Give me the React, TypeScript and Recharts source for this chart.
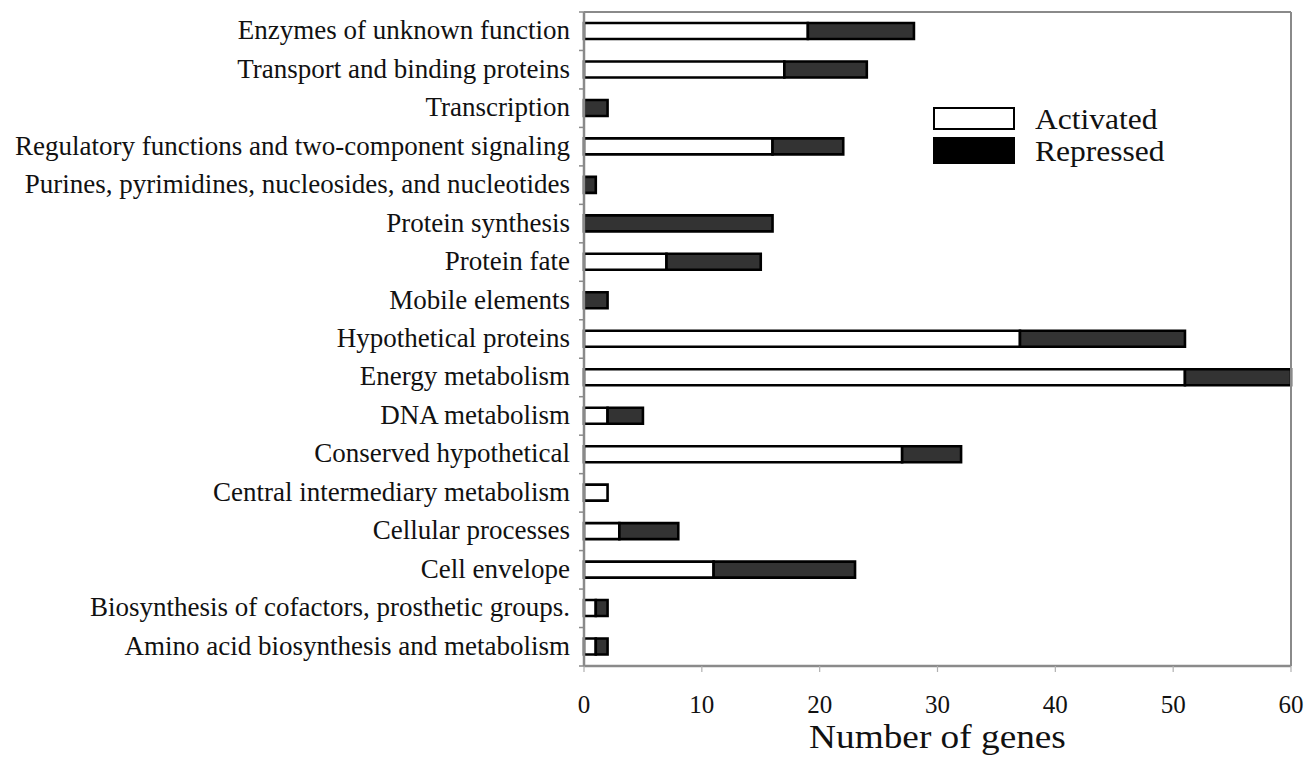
import React from "react";
import { Bar, BarChart, Label, Legend, XAxis, YAxis } from "recharts";

const categories = [
  "Enzymes of unknown function",
  "Transport and binding proteins",
  "Transcription",
  "Regulatory functions and two-component signaling",
  "Purines, pyrimidines, nucleosides, and nucleotides",
  "Protein synthesis",
  "Protein fate",
  "Mobile elements",
  "Hypothetical proteins",
  "Energy metabolism",
  "DNA metabolism",
  "Conserved hypothetical",
  "Central intermediary metabolism",
  "Cellular processes",
  "Cell envelope",
  "Biosynthesis of cofactors, prosthetic groups.",
  "Amino acid biosynthesis and metabolism",
];
const activated = [19, 17, 0, 16, 0, 0, 7, 0, 37, 51, 2, 27, 2, 3, 11, 1, 1];
const repressed = [9, 7, 2, 6, 1, 16, 8, 2, 14, 9, 3, 5, 0, 5, 12, 1, 1];
const xTicks = [0, 10, 20, 30, 40, 50, 60];

const data = categories.map((name, i) => ({
  name,
  activated: activated[i],
  repressed: repressed[i],
}));

const W = 1305;
const H = 757;
const LEFT = 584;
const TOP = 12;
const BOTTOM = 666;
const RIGHT = 1291;
const BAND = (BOTTOM - TOP) / categories.length;
const FONT = '"Liberation Serif", "Times New Roman", serif';
const AXIS = "#8a8a8a";

function CategoryTick(props: any) {
  const { y, payload, index } = props;
  return (
    <g>
      <line x1={LEFT - 5} x2={LEFT} y1={y - BAND / 2} y2={y - BAND / 2} stroke={AXIS} strokeWidth={1.5} />
      {index === categories.length - 1 && (
        <line x1={LEFT - 5} x2={LEFT} y1={y + BAND / 2} y2={y + BAND / 2} stroke={AXIS} strokeWidth={1.5} />
      )}
      <text x={570} y={y + 8} textAnchor="end" fontFamily={FONT} fontSize={27} fill="#111">
        {payload.value}
      </text>
    </g>
  );
}

function ValueTick(props: any) {
  const { x, payload } = props;
  return (
    <g>
      <line x1={x} x2={x} y1={BOTTOM} y2={BOTTOM + 6} stroke="#b0b0b0" strokeWidth={1.2} />
      <text x={x} y={713} textAnchor="middle" fontFamily={FONT} fontSize={25} fill="#111">
        {payload.value}
      </text>
    </g>
  );
}

function AxisTitle() {
  return (
    <text
      transform={`translate(${(LEFT + RIGHT) / 2}, 748) scale(1.13, 1)`}
      textAnchor="middle"
      fontFamily={FONT}
      fontSize={33}
      fill="#111"
    >
      Number of genes
    </text>
  );
}

function LegendBox() {
  const row = (label: string, fill: string, h: number, gap: number) => (
    <div style={{ display: "flex", alignItems: "center", height: h + 4, marginBottom: gap }}>
      <div
        style={{
          width: 78,
          height: h,
          background: fill,
          border: "2px solid #000",
          boxSizing: "content-box",
          flex: "none",
        }}
      />
      <span
        style={{
          marginLeft: 20,
          fontFamily: FONT,
          fontSize: 30,
          lineHeight: 1,
          color: "#111",
          display: "inline-block",
          whiteSpace: "nowrap",
          transform: "scaleX(1.05)",
          transformOrigin: "left center",
        }}
      >
        {label}
      </span>
    </div>
  );
  return (
    <div style={{ width: 300 }}>
      {row("Activated", "#fff", 19, 7)}
      {row("Repressed", "#000", 23, 0)}
    </div>
  );
}

export default function App() {
  return (
    <div style={{ position: "absolute", left: 0, top: 0, width: W, height: H, background: "#fff" }}>
      <BarChart
        layout="vertical"
        width={W}
        height={H}
        data={data}
        margin={{ top: TOP - 1, right: W - RIGHT - 1, bottom: 0, left: 0 }}
      >
        <XAxis
          type="number"
          domain={[0, 60]}
          ticks={xTicks}
          height={H - BOTTOM}
          axisLine={{ stroke: AXIS, strokeWidth: 2.5 }}
          tickLine={false}
          tick={<ValueTick />}
          interval={0}
        >
          <Label content={<AxisTitle />} />
        </XAxis>
        <XAxis
          xAxisId="top"
          orientation="top"
          type="number"
          domain={[0, 60]}
          height={1}
          tick={false}
          tickLine={false}
          axisLine={{ stroke: AXIS, strokeWidth: 2 }}
        />
        <YAxis
          type="category"
          dataKey="name"
          width={LEFT}
          axisLine={{ stroke: AXIS, strokeWidth: 2.5 }}
          tickLine={false}
          tick={<CategoryTick />}
          interval={0}
        />
        <YAxis
          yAxisId="right"
          orientation="right"
          type="number"
          domain={[0, 1]}
          width={1}
          tick={false}
          tickLine={false}
          axisLine={{ stroke: AXIS, strokeWidth: 2 }}
        />
        <Legend
          layout="horizontal"
          align="center"
          verticalAlign="middle"
          content={<LegendBox />}
          wrapperStyle={{ position: "absolute", left: 933, top: 107, width: 300 }}
        />
        <Bar dataKey="activated" stackId="s" fill="#ffffff" stroke="#000" strokeWidth={2.6} barSize={16} isAnimationActive={false} />
        <Bar dataKey="repressed" stackId="s" fill="#333333" stroke="#000" strokeWidth={2.6} barSize={16} isAnimationActive={false} />
      </BarChart>
    </div>
  );
}
